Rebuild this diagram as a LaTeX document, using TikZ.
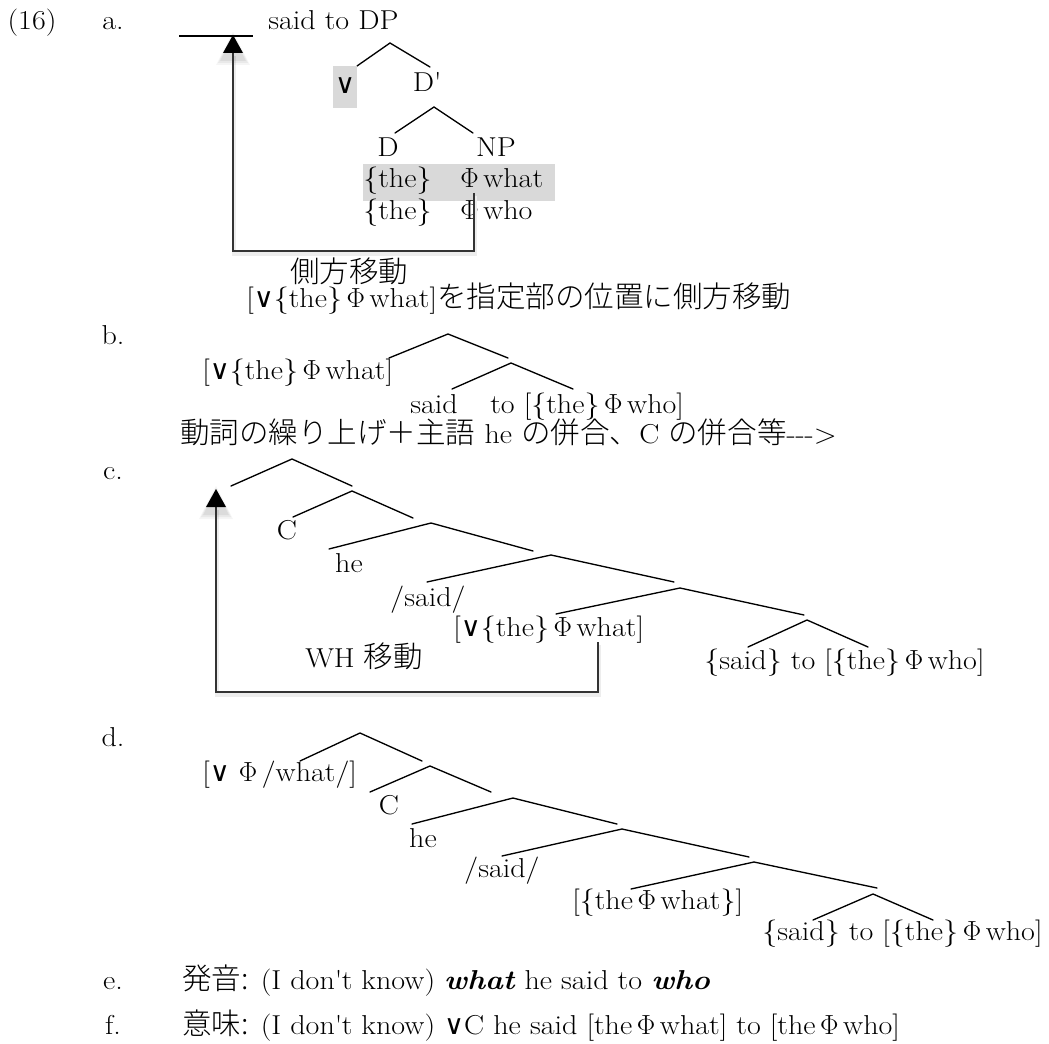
\documentclass[tikz,border=0pt]{standalone}
\usepackage{fontspec}
\setmainfont{Latin Modern Roman}[FakeStretch=1.10]
\newfontfamily\jp[Scale=1.08]{Noto Sans CJK JP Light}
\newfontfamily\symf{DejaVu Sans}
\newcommand\orv{{\symf ∨}}
\newcommand\phw{$\Phi$\,}
\newcommand\apos{\textquotesingle}

\begin{document}
\begin{tikzpicture}[x=0.75pt,y=-0.75pt,
  lbl/.style={inner sep=0pt, font=\fontsize{20.5}{25}\selectfont, text height=0.75em, text depth=0.1em},
  lw/.style={lbl, anchor=west},
  branch/.style={line width=1pt, line cap=round},
  movepath/.style={line width=1pt, draw=black!80},
  moveshadow/.style={line width=2.5pt, draw=black!7},
  hilite/.style={fill=black!15, inner sep=0pt, draw=none}]
\useasboundingbox (0,0) rectangle (1049,1044);

% ---------- (16a) ----------
\node[lbl] (n16) at (32,25) {(16)};
\node[lbl] (ma) at (113,25) {a.};
\coordinate (barL) at (179,36);
\coordinate (barR) at (253,36);
\draw[line width=1.6pt] (barL) -- (barR);
\node[lw] (dp) at (268,25) {said to DP};
\coordinate (dpA) at (390,43);
\coordinate (dpL) at (357,66);
\coordinate (dpR) at (430,67);
\draw[branch] (dpL) -- (dpA) -- (dpR);
\node[hilite, minimum width=18pt, minimum height=31.5pt] (orbox) at (345,87) {};
\node[lbl] (or1) at (345,89) {\orv};
\node[lbl] (dbar) at (427,87) {D\apos};
\coordinate (dbA) at (434,107);
\coordinate (dbL) at (395,133);
\coordinate (dbR) at (473,133);
\draw[branch] (dbL) -- (dbA) -- (dbR);
\node[lbl] (dd) at (388,152) {D};
\node[lbl] (np) at (496,152) {NP};
\node[hilite, minimum width=144pt, minimum height=27.75pt] (band) at (459,182.5) {};
\node[lw] (the1) at (363,183) {\{the\}};
\node[lw] (what1) at (460,183) {\phw what};
\node[lw] (the2) at (363,215) {\{the\}};
\node[lw] (who1) at (460,215) {\phw who};
% sideward movement path
\coordinate (mvS) at (474,193);
\coordinate (mvB) at (474,251);
\coordinate (mvC) at (233,251);
\coordinate (mvT) at (233,53);
\coordinate (tipA) at (233,35);
\draw[moveshadow] ([shift={(1,3)}]mvS) -- ([shift={(1,3)}]mvB) -- ([shift={(1,3)}]mvC) -- ([shift={(1,3)}]mvT);
\foreach \k/\o in {7/0.04,5/0.05,3/0.06} {
  \fill[black, opacity=\o] ([shift={(0,4-\k)}]tipA) -- ([shift={(-10-\k,23+\k)}]tipA) -- ([shift={(10+\k,23+\k)}]tipA) -- cycle;
}
\draw[movepath] (mvS) -- (mvB) -- (mvC) -- (mvT);
\fill (tipA) -- ([shift={(-10,18)}]tipA) -- ([shift={(10,18)}]tipA) -- cycle;

% ---------- (16b) ----------
\node[lw] (side) at (290,278) {\jp 側方移動};
\node[lw] (headb) at (246,303) {[\orv\{the\}\,\phw what]{\jp を指定部の位置に側方移動}};
\node[lbl] (mb) at (113,340) {b.};
\coordinate (bA1) at (448,334);
\coordinate (bL1) at (389,358);
\coordinate (bR1) at (508,358);
\coordinate (bA2) at (511,363);
\coordinate (bL2) at (452,389);
\coordinate (bR2) at (573,389);
\draw[branch] (bL1) -- (bA1) -- (bR1);
\draw[branch] (bL2) -- (bA2) -- (bR2);
\node[lw] (bspec) at (202,375) {[\orv\{the\}\,\phw what]};
\node[lw] (bsaid) at (410,409) {said};
\node[lw] (bto) at (490,409) {to [\{the\}\,\phw who]};

% ---------- (16c) ----------
\node[lw] (headc) at (180,439) {{\jp 動詞の繰り上げ＋主語} he {\jp の併合、}C {\jp の併合等}-{}-{}->};
\node[lbl] (mc) at (113,475) {c.};
\coordinate (cA1) at (292,459);  \coordinate (cL1) at (231,486);  \coordinate (cR1) at (352,486);
\coordinate (cA2) at (352,491);  \coordinate (cL2) at (293,517);  \coordinate (cR2) at (413,518);
\coordinate (cA3) at (431,523);  \coordinate (cL3) at (329,549);  \coordinate (cR3) at (533,551);
\coordinate (cA4) at (551,555);  \coordinate (cL4) at (427,582);  \coordinate (cR4) at (674,582);
\coordinate (cA5) at (680,588);  \coordinate (cL5) at (556,614);  \coordinate (cR5) at (804,615);
\coordinate (cA6) at (807,620);  \coordinate (cL6) at (748,647);  \coordinate (cR6) at (868,647);
\foreach \i in {1,...,6} { \draw[branch] (cL\i) -- (cA\i) -- (cR\i); }
\node[lbl] (cC) at (287,535) {C};
\node[lbl] (che) at (349,568) {he};
\node[lbl] (csaid) at (428,602) {/said/};
\node[lw] (cwh) at (453,632) {[\orv\{the\}\,\phw what]};
\node[lw] (cto) at (704,665) {\{said\} to [\{the\}\,\phw who]};
\node[lw] (whm) at (305,663) {WH {\jp 移動}};
% wh-movement path
\coordinate (whS) at (598,642);
\coordinate (whB) at (598,692);
\coordinate (whC) at (216,692);
\coordinate (whT) at (216,507);
\coordinate (tipC) at (216,489);
\draw[moveshadow] ([shift={(1,3)}]whS) -- ([shift={(1,3)}]whB) -- ([shift={(1,3)}]whC) -- ([shift={(1,3)}]whT);
\foreach \k/\o in {7/0.04,5/0.05,3/0.06} {
  \fill[black, opacity=\o] ([shift={(0,4-\k)}]tipC) -- ([shift={(-10-\k,23+\k)}]tipC) -- ([shift={(10+\k,23+\k)}]tipC) -- cycle;
}
\draw[movepath] (whS) -- (whB) -- (whC) -- (whT);
\fill (tipC) -- ([shift={(-10,18)}]tipC) -- ([shift={(10,18)}]tipC) -- cycle;

% ---------- (16d) ----------
\node[lbl] (md) at (113,742) {d.};
\coordinate (dA1) at (360,733);  \coordinate (dL1) at (300,761);  \coordinate (dR1) at (422,761);
\coordinate (dA2) at (430,766);  \coordinate (dL2) at (370,792);  \coordinate (dR2) at (491,792);
\coordinate (dA3) at (513,798);  \coordinate (dL3) at (412,824);  \coordinate (dR3) at (617,824);
\coordinate (dA4) at (622,829);  \coordinate (dL4) at (502,856);  \coordinate (dR4) at (749,857);
\coordinate (dA5) at (754,862);  \coordinate (dL5) at (631,889);  \coordinate (dR5) at (877,888);
\coordinate (dA6) at (873,894);  \coordinate (dL6) at (813,920);  \coordinate (dR6) at (933,920);
\foreach \i in {1,...,6} { \draw[branch] (dL\i) -- (dA\i) -- (dR\i); }
\node[lw] (dwh) at (202,777) {[\orv\ \phw/what/]};
\node[lbl] (dC) at (389,810) {C};
\node[lbl] (dhe) at (423,843) {he};
\node[lbl] (dsaid) at (502,873) {/said/};
\node[lw] (dthe) at (572,905) {[\{the\,\phw what\}]};
\node[lw] (dto) at (762,936) {\{said\} to [\{the\}\,\phw who]};

% ---------- (16e, f) ----------
\node[lbl] (me) at (113,985) {e.};
\node[lw] (pron) at (182,985) {{\jp 発音:} (I don\apos t know) \textbf{\textit{what}} he said to \textbf{\textit{who}}};
\node[lbl] (mf) at (113,1030) {f.};
\node[lw] (mean) at (182,1030) {{\jp 意味:} (I don\apos t know) \orv C he said [the\,\phw what] to [the\,\phw who]};
\end{tikzpicture}
\end{document}
